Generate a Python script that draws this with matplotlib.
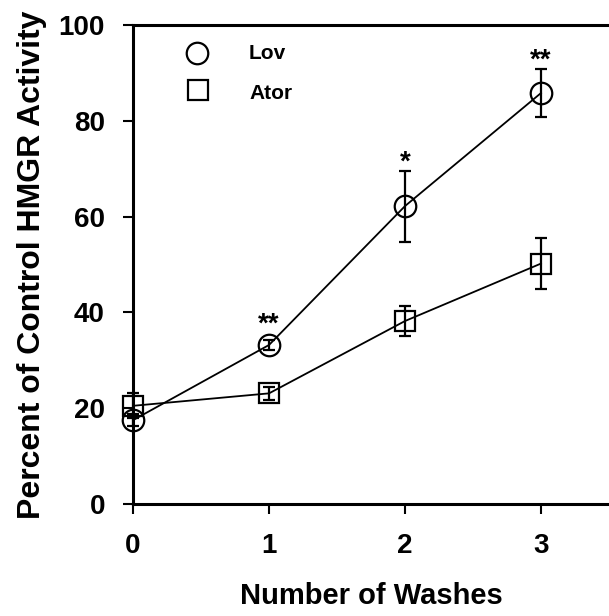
import numpy as np
import matplotlib.pyplot as plt

plt.rcParams['font.family'] = ['Liberation Sans', 'DejaVu Sans']
plt.rcParams['font.weight'] = 'bold'

washes = [0, 1, 2, 3]
lov = [17.5, 33.2, 62.2, 85.8]
lov_err = [1.2, 1.0, 7.4, 5.1]
ator = [20.5, 23.1, 38.2, 50.2]
ator_err = [2.6, 1.3, 3.1, 5.3]
lov_stars = ['', '**', '*', '**']

fig = plt.figure(figsize=(6.09, 6.16), dpi=100)
ax = fig.add_axes([0.2184, 0.1818, 0.7816, 0.7776])

ax.errorbar(washes, lov, yerr=lov_err, color='black', lw=1.3, marker='o', ms=15.5,
            mfc='none', mec='black', mew=1.6, capsize=4, elinewidth=1.6, capthick=1.6,
            clip_on=False, zorder=3)
ax.errorbar(washes, ator, yerr=ator_err, color='black', lw=1.3, marker='s', ms=14.5,
            mfc='none', mec='black', mew=1.6, capsize=4, elinewidth=1.6, capthick=1.6,
            clip_on=False, zorder=3)

# significance marks above the Lov points
for x, y, e, s in zip(washes, lov, lov_err, lov_stars):
    if s:
        top = y + max(e, 2.4)
        ax.text(x, top + 0.3, s, ha='center', va='baseline', fontsize=20)

# legend drawn by hand
ax.plot([0.134], [0.941], transform=ax.transAxes, marker='o', ms=15.5, mfc='none',
        mec='black', mew=1.6, ls='none', clip_on=False)
ax.plot([0.137], [0.865], transform=ax.transAxes, marker='s', ms=14.5, mfc='none',
        mec='black', mew=1.6, ls='none', clip_on=False)
ax.text(0.242, 0.9415, 'Lov', transform=ax.transAxes, va='center', fontsize=15)
ax.text(0.244, 0.858, 'Ator', transform=ax.transAxes, va='center', fontsize=15)

ax.set_xlim(0, 3.5)
ax.set_ylim(0, 100)
ax.set_xticks(washes)
ax.set_yticks([0, 20, 40, 60, 80, 100])
ax.tick_params(direction='out', length=7.2, width=1.5, labelsize=20)
ax.tick_params(axis='x', pad=14)
ax.tick_params(axis='y', pad=13)
for side in ['left', 'bottom', 'top']:
    ax.spines[side].set_linewidth(2.2)
ax.spines['right'].set_visible(False)

ax.set_xlabel('Number of Washes', fontsize=21, fontweight='bold', labelpad=16)
ax.set_ylabel('Percent of Control HMGR Activity', fontsize=23, fontweight='bold', labelpad=8)

fig.savefig('out.png', dpi=100)
